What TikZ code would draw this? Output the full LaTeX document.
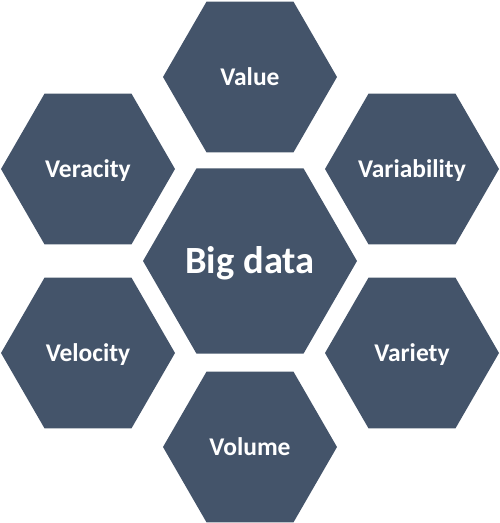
\documentclass[tikz,border=0pt]{standalone}
\usepackage{fontspec}
\setmainfont{Carlito}
\definecolor{hexblue}{HTML}{44546A}
\begin{document}
\begin{tikzpicture}[x=1pt,y=-1pt,
  hex/.style={fill=hexblue},
  lbl/.style={text=white, font=\bfseries\fontsize{25.5}{28}\selectfont, text height=16pt, text depth=0pt, inner sep=0pt},
  biglbl/.style={lbl, font=\bfseries\fontsize{38.5}{42}\selectfont, text height=24.5pt}]
\useasboundingbox (0,0) rectangle (500,523);
\newcommand\hexshape[2]{\fill[hex] (#1) +(0:#2) -- +(60:#2) -- +(120:#2) -- +(180:#2) -- +(240:#2) -- +(300:#2) -- cycle;}
\coordinate (c0) at (250,261);
\coordinate (c1) at (250,77);
\coordinate (c2) at (412,169);
\coordinate (c3) at (412,353);
\coordinate (c4) at (250,447);
\coordinate (c5) at (88,353);
\coordinate (c6) at (88,169);
\hexshape{c0}{107}
\hexshape{c1}{87}
\hexshape{c2}{87}
\hexshape{c3}{87}
\hexshape{c4}{87}
\hexshape{c5}{87}
\hexshape{c6}{87}
\node[biglbl] (n0) at (c0) {Big data};
\node[lbl] (n1) at (c1) {Value};
\node[lbl] (n2) at (c2) {Variability};
\node[lbl] (n3) at (c3) {Variety};
\node[lbl] (n4) at (c4) {Volume};
\node[lbl] (n5) at (c5) {Velocity};
\node[lbl] (n6) at (c6) {Veracity};
\end{tikzpicture}
\end{document}
